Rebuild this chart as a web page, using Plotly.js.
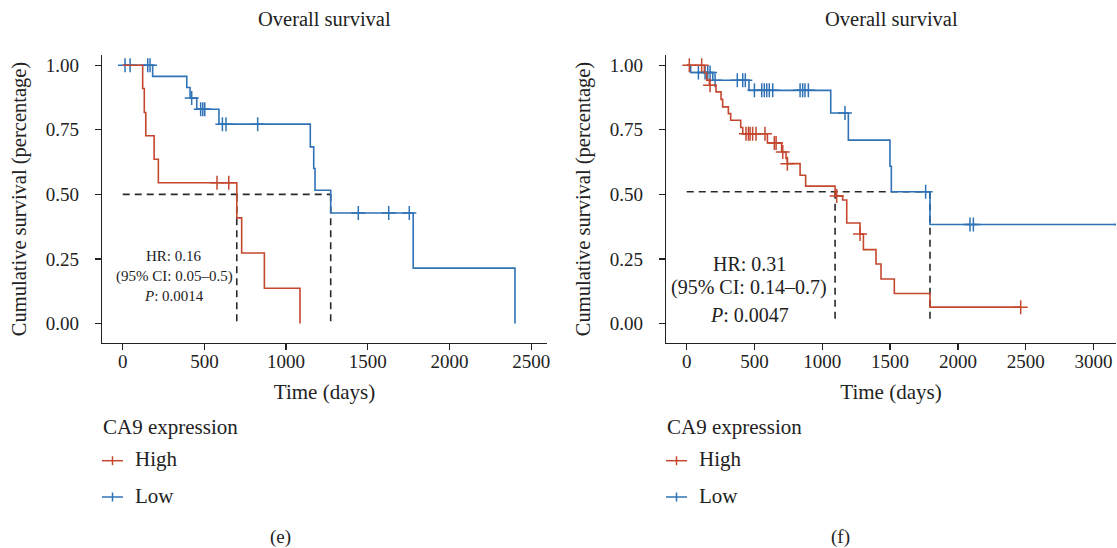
<!DOCTYPE html>
<html><head><meta charset="utf-8">
<script src="https://cdn.plot.ly/plotly-3.0.1.min.js"></script>
<style>html,body{margin:0;padding:0;background:#fff;}#chart{width:1117px;height:548px;}</style>
</head><body><div id="chart"></div>
<script>
// ---------- Panel (e) ----------
const eHighTime = [0, 122, 132, 141, 192, 218, 698, 728, 867, 1085];
const eHighSurv = [1, 0.910, 0.817, 0.727, 0.636, 0.545, 0.409, 0.273, 0.136, 0];
const eHighCensor = [577, 649];
const eLowTime = [0, 183, 392, 412, 453, 589, 1148, 1169, 1177, 1273, 1778, 2401];
const eLowSurv = [1, 0.957, 0.914, 0.873, 0.830, 0.772, 0.684, 0.600, 0.516, 0.428, 0.214, 0];
const eLowCensor = [14, 45, 153, 167, 422, 477, 490, 502, 610, 632, 826, 1442, 1628, 1754];
const eMedianSurv = 0.5;
const eMedianTimes = [698, 1273];
const eStats = ["HR: 0.16", "(95% CI: 0.05–0.5)", "<i>P</i>: 0.0014"];

// ---------- Panel (f) ----------
const fHighTime = [0, 130, 147, 167, 216, 253, 265, 307, 324, 398, 413, 595, 700, 732, 742, 836, 877, 1094, 1150, 1180, 1278, 1303, 1396, 1433, 1531, 1794, 2463];
const fHighSurv = [1, 0.972, 0.942, 0.923, 0.897, 0.868, 0.839, 0.813, 0.787, 0.759, 0.735, 0.699, 0.664, 0.639, 0.619, 0.574, 0.532, 0.494, 0.478, 0.389, 0.346, 0.286, 0.230, 0.172, 0.116, 0.063, 0.063];
const fHighCensor = [19, 110, 172, 437, 455, 467, 486, 511, 577, 646, 659, 708, 742, 1106, 1278, 2463];
const fLowTime = [0, 29, 192, 459, 1062, 1192, 1499, 1509, 1794, 3200];
const fLowSurv = [1, 0.972, 0.942, 0.903, 0.815, 0.710, 0.609, 0.510, 0.383, 0.383];
const fLowCensor = [86, 135, 155, 172, 209, 373, 413, 432, 499, 553, 572, 590, 609, 634, 836, 855, 872, 897, 1167, 1762, 2089, 2114, 3200];
const fMedianSurv = 0.51;
const fMedianTimes = [1094, 1794];
const fStats = ["HR: 0.31", "(95% CI: 0.14–0.7)", "<i>P</i>: 0.0047"];

const groupNames = ["High", "Low"];
const legendTitle = "CA9 expression";
const plotTitle = "Overall survival";
const xTitle = "Time (days)";
const yTitle = "Cumulative survival (percentage)";
const panelLabels = ["(e)", "(f)"];
const yTicks = [0, 0.25, 0.5, 0.75, 1];

const RED = "#c4472e", BLUE = "#2f72b5", DASH = "#2a2a2a", TXT = "#222222";
const FONT = "Liberation Serif, Times New Roman, serif";
const W = 1117, H = 548;
const px = v => v / W, py = v => 1 - v / H;

function stepAt(times, surv, t) {
  let s = surv[0];
  for (let i = 0; i < times.length; i++) if (times[i] <= t) s = surv[i];
  return s;
}

function curveTraces(times, surv, censor, color, xa, ya) {
  return [
    {x: times, y: surv, mode: "lines", line: {shape: "hv", color: color, width: 1.6},
     xaxis: xa, yaxis: ya, showlegend: false, hoverinfo: "skip"},
    {x: censor, y: censor.map(t => stepAt(times, surv, t)), mode: "markers",
     marker: {symbol: "cross-thin", size: 10, color: color, line: {color: color, width: 1.5}},
     xaxis: xa, yaxis: ya, showlegend: false, hoverinfo: "skip"}
  ];
}

function medianTraces(level, times, xa, ya) {
  const tr = [{x: [0, Math.max(...times)], y: [level, level], mode: "lines",
    line: {color: DASH, width: 1.6, dash: "7px,5px"}, xaxis: xa, yaxis: ya, showlegend: false, hoverinfo: "skip"}];
  times.forEach(t => tr.push({x: [t, t], y: [level, 0], mode: "lines",
    line: {color: DASH, width: 1.6, dash: "7px,5px"}, xaxis: xa, yaxis: ya, showlegend: false, hoverinfo: "skip"}));
  return tr;
}

const data = [].concat(
  medianTraces(eMedianSurv, eMedianTimes, "x", "y"),
  curveTraces(eLowTime, eLowSurv, eLowCensor, BLUE, "x", "y"),
  curveTraces(eHighTime, eHighSurv, eHighCensor, RED, "x", "y"),
  medianTraces(fMedianSurv, fMedianTimes, "x2", "y2"),
  curveTraces(fLowTime, fLowSurv, fLowCensor, BLUE, "x2", "y2"),
  curveTraces(fHighTime, fHighSurv, fHighCensor, RED, "x2", "y2")
);

const yDomain = [py(343), py(55)];
function xAxis(domain, range, anchor) {
  return {domain: domain, range: range, anchor: anchor, dtick: 500, tick0: 0,
    showgrid: false, zeroline: false, showline: true, linecolor: TXT, linewidth: 1.3,
    ticks: "outside", ticklen: 6, tickwidth: 1.3, tickcolor: TXT, ticklabelstandoff: -5,
    tickfont: {family: FONT, size: 19, color: TXT}, automargin: false,
    title: {text: xTitle, font: {family: FONT, size: 21, color: TXT}, standoff: 13}};
}
function yAxis(anchor) {
  return {domain: yDomain, range: [-0.076, 1.04], anchor: anchor, tickvals: yTicks, tickformat: ".2f",
    showgrid: false, zeroline: false, showline: true, linecolor: TXT, linewidth: 1.3,
    ticks: "outside", ticklen: 6, tickwidth: 1.3, tickcolor: TXT, ticklabelstandoff: 12,
    tickfont: {family: FONT, size: 19, color: TXT}, automargin: false,
    title: {text: yTitle, font: {family: FONT, size: 20.5, color: TXT}, standoff: 13}};
}

const annotations = [];
const shapes = [];
const panels = [
  {xa: "x", stats: eStats, statX: 174, statY: [256.3, 276.7, 295.7], statSize: 15, legX: 102, label: panelLabels[0], labelX: 280},
  {xa: "x2", stats: fStats, statX: 749, statY: [263.7, 287.5, 315], statSize: 20, legX: 666, label: panelLabels[1], labelX: 840}
];
panels.forEach(p => {
  annotations.push({text: plotTitle, xref: p.xa + " domain", yref: "paper", x: 0.5, y: py(18.7),
    xanchor: "center", yanchor: "middle", showarrow: false, font: {family: FONT, size: 20.5, color: TXT}});
  p.stats.forEach((s, i) => annotations.push({text: s, xref: "paper", yref: "paper", x: px(p.statX), y: py(p.statY[i]),
    xanchor: "center", yanchor: "middle", showarrow: false, font: {family: FONT, size: p.statSize, color: TXT}}));
  annotations.push({text: legendTitle, xref: "paper", yref: "paper", x: px(p.legX - 1), y: py(427),
    xanchor: "left", yanchor: "middle", showarrow: false, font: {family: FONT, size: 21, color: TXT}});
  [[groupNames[0], RED, 459, 460.7], [groupNames[1], BLUE, 495.5, 497]].forEach(([name, col, ty, ly]) => {
    annotations.push({text: name, xref: "paper", yref: "paper", x: px(p.legX + 31), y: py(ty),
      xanchor: "left", yanchor: "middle", showarrow: false, font: {family: FONT, size: 21, color: TXT}});
    shapes.push({type: "line", xref: "paper", yref: "paper", x0: px(p.legX), x1: px(p.legX + 21), y0: py(ly), y1: py(ly),
      line: {color: col, width: 1.5}});
    shapes.push({type: "line", xref: "paper", yref: "paper", x0: px(p.legX + 10.5), x1: px(p.legX + 10.5), y0: py(ly - 4.5), y1: py(ly + 4.5),
      line: {color: col, width: 1.5}});
  });
  annotations.push({text: p.label, xref: "paper", yref: "paper", x: px(p.labelX), y: py(537),
    xanchor: "center", yanchor: "middle", showarrow: false, font: {family: FONT, size: 19, color: TXT}});
});

const layout = {
  width: W, height: H, margin: {l: 0, r: 0, t: 0, b: 0},
  paper_bgcolor: "#fff", plot_bgcolor: "#fff", showlegend: false,
  xaxis: xAxis([px(102), px(547)], [-127, 2597], "y"),
  yaxis: yAxis("x"),
  xaxis2: xAxis([px(666), px(1116)], [-153, 3166], "y2"),
  yaxis2: yAxis("x2"),
  annotations: annotations, shapes: shapes
};

Plotly.newPlot("chart", data, layout, {displayModeBar: false, staticPlot: true});
</script></body></html>
